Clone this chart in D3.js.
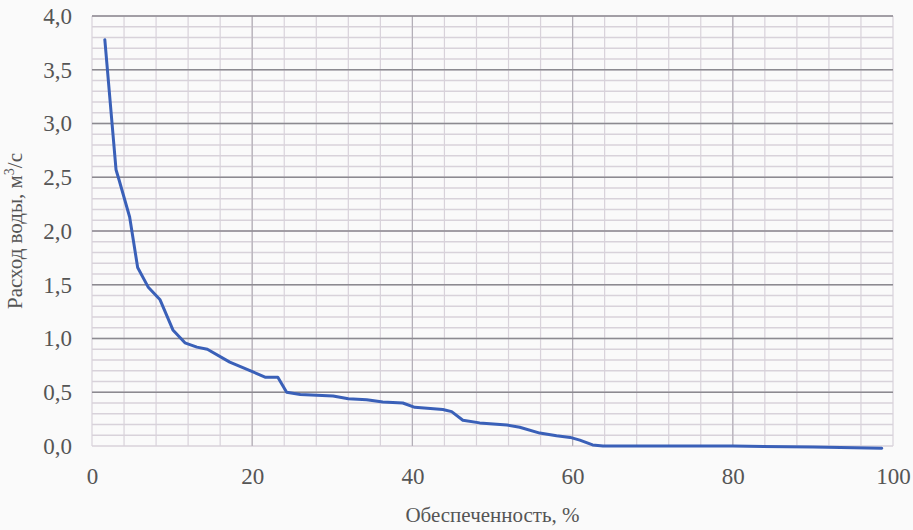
<!DOCTYPE html>
<html>
<head>
<meta charset="utf-8">
<script src="https://cdn.jsdelivr.net/npm/d3@7"></script>
<style>
  body { margin: 0; background: #fafafa; }
  svg text { font-family: "Liberation Serif", "DejaVu Serif", serif; fill: #555; }
</style>
</head>
<body>
<svg width="913" height="530"></svg>
<script>
// duration curve: supply (%) vs discharge (m3/s)
var supply = [1.6, 3.0, 3.4, 4.7, 5.7, 7.0, 8.5, 10.1, 11.6, 13.1, 14.4, 17.2, 20.1, 21.6, 23.2, 24.3, 26.0,
              30.1, 32.0, 34.3, 36.3, 38.8, 40.3, 43.8, 44.9, 46.3, 48.4, 51.8, 53.4, 55.9, 58.0, 59.7, 60.9, 62.5, 63.8,
              70, 80, 90, 98.6];
var discharge = [3.78, 2.57, 2.47, 2.13, 1.66, 1.48, 1.36, 1.08, 0.96, 0.92, 0.90, 0.78, 0.69, 0.64, 0.64, 0.50, 0.48,
                 0.465, 0.44, 0.43, 0.41, 0.40, 0.36, 0.34, 0.32, 0.24, 0.215, 0.195, 0.175, 0.12, 0.095, 0.08, 0.055, 0.01, 0.0,
                 0.0, 0.0, -0.01, -0.02];
var xTicks = [0, 20, 40, 60, 80, 100];
var yTicks = [0, 0.5, 1.0, 1.5, 2.0, 2.5, 3.0, 3.5, 4.0];

function main() {
    var svg = d3.select("svg"),
        left = 92, right = 893, top = 16, bottom = 446;

    var x = d3.scaleLinear().domain([0, 100]).range([left, right]),
        y = d3.scaleLinear().domain([0, 4]).range([bottom, top]);

    var grid = svg.append("g");

    // minor grid
    grid.selectAll(".vmin")
        .data(d3.range(0, 101, 4))
        .enter().append("line")
        .attr("x1", function(d) { return x(d); })
        .attr("x2", function(d) { return x(d); })
        .attr("y1", top).attr("y2", bottom)
        .attr("stroke", "#d8d2da").attr("stroke-width", 1.2);

    grid.selectAll(".hmin")
        .data(d3.range(0, 41).map(function(i) { return i / 10; }))
        .enter().append("line")
        .attr("x1", left).attr("x2", right)
        .attr("y1", function(d) { return y(d); })
        .attr("y2", function(d) { return y(d); })
        .attr("stroke", "#d8d2da").attr("stroke-width", 1.5);

    // major grid
    grid.selectAll(".vmaj")
        .data(xTicks.slice(1, -1))
        .enter().append("line")
        .attr("x1", function(d) { return x(d); })
        .attr("x2", function(d) { return x(d); })
        .attr("y1", top).attr("y2", bottom)
        .attr("stroke", "#b4b0b8").attr("stroke-width", 1.2);

    grid.selectAll(".hmaj")
        .data(yTicks.slice(1))
        .enter().append("line")
        .attr("x1", left).attr("x2", right)
        .attr("y1", function(d) { return y(d); })
        .attr("y2", function(d) { return y(d); })
        .attr("stroke", "#8c8a90").attr("stroke-width", 1.5);

    // axes (labels only)
    var yAxis = svg.append("g")
        .attr("transform", "translate(" + (left - 4) + ",0)")
        .call(d3.axisLeft(y).tickValues(yTicks).tickSize(0).tickPadding(16)
            .tickFormat(function(d) { return d3.format(".1f")(d).replace(".", ","); }));
    yAxis.select(".domain").remove();
    yAxis.selectAll("text").style("font-size", "23px");

    var xAxis = svg.append("g")
        .attr("transform", "translate(0," + bottom + ")")
        .call(d3.axisBottom(x).tickValues(xTicks).tickSize(0).tickPadding(22));
    xAxis.select(".domain").remove();
    xAxis.selectAll("text").style("font-size", "23px");

    // titles
    svg.append("text")
        .attr("x", (left + right) / 2)
        .attr("y", 522)
        .attr("text-anchor", "middle")
        .style("font-size", "21px")
        .text("Обеспеченность, %");

    var yt = svg.append("text")
        .attr("transform", "translate(22," + ((top + bottom) / 2) + ") rotate(-90)")
        .attr("text-anchor", "middle")
        .style("font-size", "21px");
    yt.append("tspan").text("Расход воды, м");
    yt.append("tspan").style("font-size", "14px").attr("dy", -8).text("3");
    yt.append("tspan").attr("dy", 8).text("/с");

    // curve
    var pts = supply.map(function(s, i) { return [s, discharge[i]]; });
    svg.append("path")
        .datum(pts)
        .attr("fill", "none")
        .attr("stroke", "#3a60b8")
        .attr("stroke-width", 3)
        .attr("stroke-linejoin", "round")
        .attr("stroke-linecap", "round")
        .attr("d", d3.line()
            .x(function(d) { return x(d[0]); })
            .y(function(d) { return y(d[1]); }));
}
main();
</script>
</body>
</html>
